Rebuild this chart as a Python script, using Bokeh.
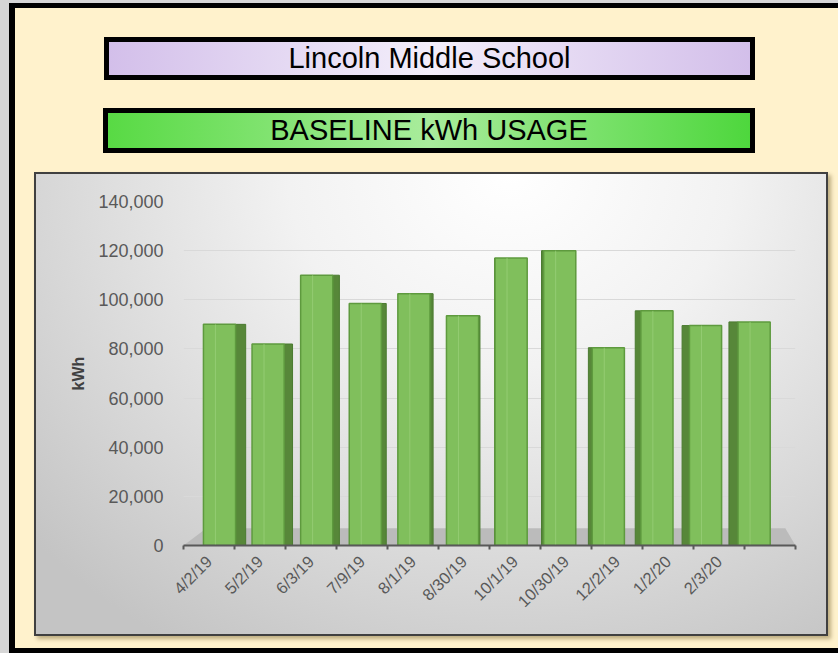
import numpy as np
from bokeh.plotting import figure
from bokeh.layouts import column
from bokeh.models import Div, Range1d, FixedTicker, NumeralTickFormatter
from bokeh.embed import file_html
from bokeh.resources import INLINE

# ---------------- data ----------------
school = "Lincoln Middle School"
subtitle = "BASELINE kWh USAGE"
dates = ["4/2/19", "5/2/19", "6/3/19", "7/9/19", "8/1/19", "8/30/19",
         "10/1/19", "10/30/19", "12/2/19", "1/2/20", "2/3/20", ""]
kwh = [90000, 82000, 110000, 98500, 102500, 93500,
       117000, 120000, 80500, 95500, 89500, 91000]
y_ticks = [0, 20000, 40000, 60000, 80000, 100000, 120000, 140000]
y_title = "kWh"

# ---------------- geometry helpers (3-D look) ----------------
n = len(kwh)
cats = np.arange(n, dtype=float)
bar_x = 0.206 + 0.953 * cats          # perspective squeeze of the bar row
bar_w = 0.63
vx = 5.716                             # vanishing point (axis units)
side = 0.036 * (vx - bar_x)            # visible side-face width
side_left = np.where(side > 0, bar_x + bar_w / 2, bar_x - bar_w / 2 + side)
side_right = np.where(side > 0, bar_x + bar_w / 2 + side, bar_x - bar_w / 2)
x0, x1 = -0.5, n - 0.5

FONT = "Liberation Sans"

p = figure(width=794, height=464, x_range=Range1d(x0, x1),
           y_range=Range1d(y_ticks[0], y_ticks[-1]),
           output_backend="svg", toolbar_location=None,
           min_border_left=149, min_border_right=33,
           min_border_top=29, min_border_bottom=91,
           margin=(0, 10, 17, 34))
p.border_fill_color = None
p.background_fill_color = None
p.outline_line_color = None
p.styles = {
    "background": "radial-gradient(ellipse 80% 120% at 60% 0%, #FFFFFF 0%, #F2F2F2 35%, #D6D6D6 75%, #C4C4C4 100%)",
    "box-shadow": "inset 0 0 0 2px #404040, 3px 3px 4px rgba(110,90,40,0.45)",
}

# floor
p.patch([x0, x1, x1 - 0.2, x0 + 0.45], [0, 0, 7000, 7000],
        fill_color="#BBBBBB", line_color=None)

# side faces
p.quad(left=side_left, right=side_right, bottom=0, top=kwh,
       fill_color="#578739", line_color="#4A7A30", line_width=1)
# front faces
p.vbar(x=bar_x, width=bar_w, top=kwh, bottom=0,
       fill_color="#80BF5C", line_color="#5E9A3E", line_width=1.5)
# subtle bevel highlight
p.segment(x0=bar_x - 0.08, y0=0, x1=bar_x - 0.08, y1=kwh,
          line_color="#9BD27C", line_width=1, line_alpha=0.7)

# y axis
p.yaxis.ticker = FixedTicker(ticks=y_ticks)
p.yaxis.formatter = NumeralTickFormatter(format="0,0")
p.yaxis.axis_line_color = None
p.yaxis.major_tick_line_color = None
p.yaxis.minor_tick_line_color = None
p.yaxis.major_label_standoff = 14
p.yaxis.major_label_text_font = FONT
p.yaxis.major_label_text_font_size = "18px"
p.yaxis.major_label_text_color = "#595959"
p.yaxis.axis_label = y_title
p.yaxis.axis_label_text_font = FONT
p.yaxis.axis_label_text_font_size = "16px"
p.yaxis.axis_label_text_font_style = "bold"
p.yaxis.axis_label_text_color = "#404040"
p.yaxis.axis_label_standoff = 8

# x axis
labelled = [i for i, d in enumerate(dates) if d]
p.xaxis.ticker = FixedTicker(ticks=labelled,
                             minor_ticks=[k - 0.5 for k in range(n + 1)])
p.xaxis.major_label_overrides = {i: dates[i] for i in labelled}
p.xaxis.major_label_orientation = np.pi / 4
p.xaxis.major_tick_line_color = None
p.xaxis.major_tick_out = 0
p.xaxis.major_tick_in = 0
p.xaxis.minor_tick_out = 4
p.xaxis.minor_tick_in = 0
p.xaxis.minor_tick_line_color = "#595959"
p.xaxis.minor_tick_line_width = 2
p.xaxis.axis_line_color = "#595959"
p.xaxis.axis_line_width = 2
p.xaxis.major_label_standoff = 9
p.xaxis.major_label_text_font = FONT
p.xaxis.major_label_text_font_size = "16.5px"
p.xaxis.major_label_text_color = "#595959"

p.xgrid.grid_line_color = None
p.ygrid.grid_line_color = "#D9D9D9"
p.ygrid.grid_line_width = 1

# ---------------- header boxes ----------------
def box(top, left, width, height, grad, size, text):
    return (f'<div style="position:absolute;left:{left}px;top:{top}px;width:{width}px;'
            f'height:{height}px;box-sizing:border-box;border:5px solid #000;'
            f'background:{grad};display:flex;align-items:center;justify-content:center;'
            f'font-family:\'{FONT}\',Arial,sans-serif;font-size:{size}px;color:#000;'
            f'white-space:nowrap;line-height:1;">{text}</div>')

html = ('<div style="position:relative;width:838px;height:172px;">'
        + box(37, 104, 651, 43,
              "linear-gradient(to right,#D3BFEA 0%,#F3EEFA 50%,#D3BFEA 100%)",
              29, school)
        + box(108, 103, 652, 45,
              "linear-gradient(to right,#58DA44 0%,#A9EC9C 50%,#4ED73D 100%)",
              29, subtitle)
        + '</div>')
header = Div(text=html, width=838, height=172, margin=0)

layout = column(header, p, width=838, height=653, spacing=0,
                styles={"background-color": "#FFF2CC",
                        "box-shadow": "inset 9px 3px 0 0 #D6D6D6, inset 15px 8px 0 0 #000000, inset 0 -5px 0 0 #000000"})

open("out.html", "w").write(file_html(layout, INLINE))
